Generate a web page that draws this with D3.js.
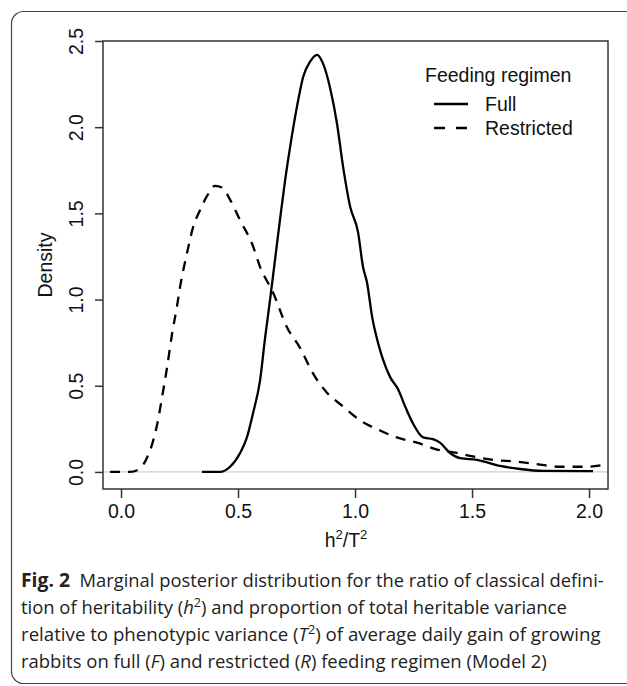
<!DOCTYPE html>
<html>
<head>
<meta charset="utf-8">
<script src="https://cdn.jsdelivr.net/npm/d3@7"></script>
<style>
  body { margin: 0; background: #fff; }
  svg { display: block; }
</style>
</head>
<body>
<svg id="chart" width="627" height="686"></svg>
<script>
// values
const fullX = [0.346, 0.423, 0.466, 0.509, 0.538, 0.564, 0.594, 0.615, 0.637, 0.658, 0.679, 0.701, 0.722, 0.752, 0.778, 0.808, 0.838, 0.863, 0.893, 0.923, 0.949, 0.979, 1.013, 1.034, 1.051, 1.073, 1.098, 1.120, 1.150, 1.184, 1.214, 1.248, 1.291, 1.333, 1.363, 1.406, 1.449, 1.521, 1.620, 1.705, 1.803, 2.017]
const fullY = [0, 0, 0.03, 0.11, 0.20, 0.34, 0.53, 0.77, 1.00, 1.23, 1.46, 1.69, 1.88, 2.12, 2.29, 2.38, 2.42, 2.37, 2.23, 2.02, 1.77, 1.54, 1.39, 1.19, 1.10, 0.90, 0.75, 0.65, 0.55, 0.48, 0.38, 0.28, 0.20, 0.19, 0.17, 0.11, 0.08, 0.07, 0.035, 0.017, 0.006, 0.005]
const restrictedX = [-0.047, 0.038, 0.081, 0.110, 0.135, 0.155, 0.175, 0.196, 0.218, 0.239, 0.252, 0.282, 0.308, 0.338, 0.367, 0.402, 0.432, 0.466, 0.509, 0.564, 0.594, 0.650, 0.709, 0.765, 0.821, 0.880, 0.949, 1.021, 1.107, 1.179, 1.265, 1.350, 1.436, 1.504, 1.590, 1.692, 1.778, 1.876, 1.990, 2.055]
const restrictedY = [0, 0, 0.02, 0.08, 0.17, 0.28, 0.43, 0.60, 0.80, 0.96, 1.07, 1.27, 1.42, 1.52, 1.60, 1.66, 1.65, 1.58, 1.46, 1.31, 1.19, 1.04, 0.84, 0.72, 0.57, 0.46, 0.38, 0.30, 0.24, 0.20, 0.17, 0.13, 0.11, 0.09, 0.07, 0.06, 0.045, 0.03, 0.03, 0.04]
const xTicks = [0, 0.5, 1, 1.5, 2]
const yTicks = [0, 0.5, 1, 1.5, 2, 2.5]
const seriesNames = ["Full", "Restricted"]
const legendTitle = "Feeding regimen"

const svg = d3.select("#chart")
const pLeft = 103, pRight = 608, pTop = 41, pBottom = 489
const axisFont = "'Liberation Sans', Arial, sans-serif"

const x = d3.scaleLinear().domain([-0.077, 2.081]).range([pLeft, pRight])
const y = d3.scaleLinear().domain([-0.099, 2.5]).range([pBottom, pTop])

// outer panel frame (cut off at right / bottom)
svg.append("rect")
  .attr("x", 11.5).attr("y", 11.5)
  .attr("width", 640).attr("height", 672)
  .attr("rx", 12)
  .attr("fill", "none").attr("stroke", "#444").attr("stroke-width", 1.2)

// zero reference line
svg.append("line")
  .attr("x1", pLeft).attr("x2", pRight)
  .attr("y1", y(0)).attr("y2", y(0))
  .attr("stroke", "#cfcfcf").attr("stroke-width", 1.3)

const line = d3.line()
  .x(d => x(d[0]))
  .y(d => y(d[1]))
  .curve(d3.curveMonotoneX)

const series = [
  { name: seriesNames[0], pts: d3.zip(fullX, fullY), dash: null },
  { name: seriesNames[1], pts: d3.zip(restrictedX, restrictedY), dash: "10,8" }
]

svg.append("g").attr("class", "curves")
  .selectAll("path")
  .data(series)
  .enter()
  .append("path")
  .attr("d", d => line(d.pts))
  .attr("fill", "none")
  .attr("stroke", "#000")
  .attr("stroke-width", 2.3)
  .attr("stroke-linejoin", "round")
  .attr("stroke-dasharray", d => d.dash)

// plot box
svg.append("rect")
  .attr("x", pLeft).attr("y", pTop)
  .attr("width", pRight - pLeft).attr("height", pBottom - pTop)
  .attr("fill", "none").attr("stroke", "#333").attr("stroke-width", 1.5)

// axes
const xAxis = svg.append("g")
  .attr("transform", `translate(0,${pBottom})`)
  .call(d3.axisBottom(x).tickValues(xTicks).tickFormat(d3.format(".1f")).tickSize(9).tickPadding(14))
const yAxis = svg.append("g")
  .attr("transform", `translate(${pLeft},0)`)
  .call(d3.axisLeft(y).tickValues(yTicks).tickFormat(d3.format(".1f")).tickSize(8))

for (const ax of [xAxis, yAxis]) {
  ax.attr("font-family", null).attr("font-size", null)
  ax.select(".domain").remove()
  ax.selectAll(".tick line").attr("stroke", "#333").attr("stroke-width", 1.5)
  ax.selectAll("text")
    .attr("fill", "#111")
    .style("font-family", axisFont)
    .style("font-size", "19.5px")
}
xAxis.selectAll("text").attr("dy", "0.3em")
yAxis.selectAll("text")
  .attr("x", null).attr("dy", null)
  .attr("text-anchor", "middle")
  .attr("transform", "translate(-20,0) rotate(-90)")

// axis titles
svg.append("text")
  .attr("transform", `translate(52,${(pTop + pBottom) / 2}) rotate(-90)`)
  .attr("text-anchor", "middle")
  .style("font-family", axisFont).style("font-size", "19.5px")
  .attr("fill", "#111")
  .text("Density")

const xTitle = svg.append("text")
  .attr("x", 346).attr("y", 547)
  .attr("text-anchor", "middle")
  .style("font-family", axisFont).style("font-size", "19.5px")
  .attr("fill", "#111")
xTitle.append("tspan").text("h")
xTitle.append("tspan").attr("dy", -8).style("font-size", "13px").text("2")
xTitle.append("tspan").attr("dy", 8).text("/T")
xTitle.append("tspan").attr("dy", -8).style("font-size", "13px").text("2")

// legend
const legend = svg.append("g").style("font-family", axisFont).style("font-size", "19.5px").attr("fill", "#111")
legend.append("text").attr("x", 425).attr("y", 82).text(legendTitle)
series.forEach((s, i) => {
  const ly = 104 + i * 24
  legend.append("line")
    .attr("x1", 434).attr("x2", 468)
    .attr("y1", ly).attr("y2", ly)
    .attr("stroke", "#000").attr("stroke-width", 2.3)
    .attr("stroke-dasharray", s.dash ? "11,11" : null)
  legend.append("text").attr("x", 485).attr("y", ly + 7).text(s.name)
})

// caption: each line squeezed horizontally to the width it has in the figure
const capFont = "'Open Sans', 'Noto Sans', sans-serif"
const caption = svg.append("g").style("font-family", capFont).style("font-size", "19px").attr("fill", "#222")

const capLines = [
  { x: 21, y: 587, w: 583, parts: [["Fig. 2", "b"], ["  Marginal posterior distribution for the ratio of classical defini-"]] },
  { x: 21, y: 614, w: 546, parts: [["tion of heritability ("], ["h", "i"], ["2", "s"], [") and proportion of total heritable variance"]] },
  { x: 21, y: 641, w: 580, parts: [["relative to phenotypic variance ("], ["T", "i"], ["2", "s"], [") of average daily gain of growing"]] },
  { x: 21, y: 668, w: 526, parts: [["rabbits on full ("], ["F", "i"], [") and restricted ("], ["R", "i"], [") feeding regimen (Model 2)"]] }
]
capLines.forEach(l => {
  const g = caption.append("g")
  const t = g.append("text").attr("x", 0).attr("y", 0).attr("xml:space", "preserve")
  let sup = false
  l.parts.forEach(([str, kind]) => {
    const ts = t.append("tspan").text(str)
    if (kind === "i") ts.style("font-style", "italic")
    if (kind === "b") ts.style("font-weight", "bold").style("font-size", "20px")
    if (kind === "s") { ts.attr("dy", -7).style("font-size", "13px"); sup = true }
    else if (sup) { ts.attr("dy", 7); sup = false }
  })
  const natural = t.node().getBBox().width
  g.attr("transform", `translate(${l.x},${l.y}) scale(${l.w / natural},1)`)
})
</script>
</body>
</html>
